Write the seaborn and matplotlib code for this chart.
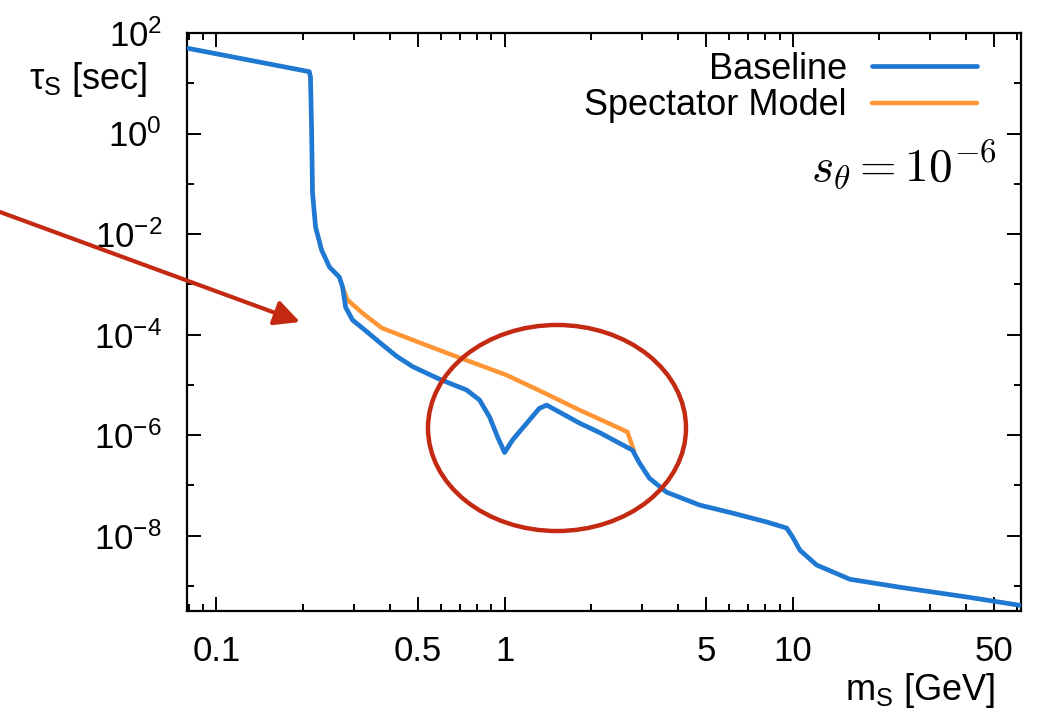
"""
Tempo de vida do escalar tau_S em função da massa m_S
Baseline vs Spectator Model, s_theta = 1e-6
"""

import matplotlib
matplotlib.use("Agg")
import matplotlib.pyplot as plt
import matplotlib.patches as mpatches
from matplotlib.ticker import FixedLocator, NullFormatter
import seaborn as sns

# Dados (m_S em GeV, tau_S em segundos)
baseline_m = [0.0787, 0.210, 0.212, 0.2138, 0.2155, 0.2208, 0.2317, 0.2468, 0.267,
              0.274, 0.2807, 0.2966, 0.332, 0.368, 0.422, 0.480, 0.549, 0.594,
              0.665, 0.738, 0.819, 0.887, 0.946, 1.0, 1.066, 1.32, 1.40, 1.82,
              2.15, 2.78, 2.94, 3.18, 3.65, 4.75, 6.19, 8.13, 9.53, 10.0, 10.6,
              12.1, 15.8, 23.5, 40.2, 61.4]
baseline_tau = [50.2, 17.0, 13.3, 1.35, 0.0655, 0.01376, 0.00481, 0.0022, 0.00139,
                8.8e-4, 3.5e-4, 1.95e-4, 1.15e-4, 7.0e-5, 3.7e-5, 2.3e-5, 1.6e-5,
                1.3e-5, 1.0e-5, 7.9e-6, 4.97e-6, 2.28e-6, 9.1e-7, 4.5e-7, 8.0e-7,
                3.4e-6, 3.95e-6, 1.73e-6, 1.1e-6, 5.0e-7, 2.77e-7, 1.39e-7, 7.3e-8,
                4.05e-8, 2.8e-8, 1.86e-8, 1.41e-8, 9.3e-9, 5.1e-9, 2.6e-9, 1.35e-9,
                9.4e-10, 6.0e-10, 4.1e-10]

spectator_m = [0.274, 0.285, 0.321, 0.375, 0.480, 0.630, 0.819, 1.016, 1.32, 1.82,
               2.37, 2.67, 2.82]
spectator_tau = [8.8e-4, 4.9e-4, 2.68e-4, 1.35e-4, 7.8e-5, 4.3e-5, 2.47e-5, 1.56e-5,
                 7.7e-6, 3.15e-6, 1.58e-6, 1.15e-6, 4.6e-7]

x_ticks = [0.1, 0.5, 1, 5, 10, 50]
x_tick_labels = ["0.1", "0.5", "1", "5", "10", "50"]
y_ticks = [1e-8, 1e-6, 1e-4, 1e-2, 1e0, 1e2]
y_tick_labels = [r"$\mathregular{10^{-8}}$", r"$\mathregular{10^{-6}}$",
                 r"$\mathregular{10^{-4}}$", r"$\mathregular{10^{-2}}$",
                 r"$\mathregular{10^{0}}$", r"$\mathregular{10^{2}}$"]
y_minor = [1e-9, 1e-7, 1e-5, 1e-3, 1e-1, 1e1]

AZUL = "#1f78d1"
LARANJA = "#ff9535"
VERMELHO = "#c42a12"


def main():
    sns.set_theme(style="ticks")
    plt.rcParams["font.family"] = ["Liberation Sans", "DejaVu Sans"]
    plt.rcParams["axes.unicode_minus"] = False
    plt.rcParams["mathtext.fontset"] = "custom"
    plt.rcParams["mathtext.rm"] = "Liberation Sans"
    plt.rcParams["mathtext.it"] = "Liberation Sans:italic"
    for chave in ["text.color", "axes.labelcolor", "xtick.color", "ytick.color",
                  "axes.edgecolor"]:
        plt.rcParams[chave] = "black"

    fig = plt.figure(figsize=(10.41, 7.13), dpi=100)
    ax = fig.add_axes([0.1796, 0.1431, 0.8012, 0.8106])

    sns.lineplot(x=spectator_m, y=spectator_tau, ax=ax, color=LARANJA, lw=3.2,
                 estimator=None, label="Spectator Model", zorder=2)
    sns.lineplot(x=baseline_m, y=baseline_tau, ax=ax, color=AZUL, lw=3.4,
                 estimator=None, label="Baseline", zorder=3)

    ax.set_xscale("log")
    ax.set_yscale("log")
    ax.set_xlim(0.079, 62)
    ax.set_ylim(10 ** -9.5, 1e2)

    ax.set_xticks(x_ticks)
    ax.set_xticklabels(x_tick_labels)
    ax.set_yticks(y_ticks)
    ax.set_yticklabels(y_tick_labels)
    ax.yaxis.set_minor_locator(FixedLocator(y_minor))
    ax.yaxis.set_minor_formatter(NullFormatter())
    ax.xaxis.set_minor_formatter(NullFormatter())

    ax.tick_params(which="both", direction="in", top=True, right=True,
                   labelsize=25, width=1.4)
    ax.tick_params(which="major", length=10)
    ax.tick_params(which="minor", length=5)
    ax.tick_params(axis="x", which="major", pad=17)
    ax.tick_params(axis="y", which="major", pad=18)
    for s in ax.spines.values():
        s.set_linewidth(1.6)

    ax.set_xlabel("")
    ax.set_ylabel("")
    ax.text(-0.047, 0.919, r"$\mathregular{τ_S}$ [sec]", transform=ax.transAxes,
            ha="right", va="center", fontsize=26)
    ax.text(0.969, -0.137, r"$\mathregular{m_S}$ [GeV]", transform=ax.transAxes,
            ha="right", va="center", fontsize=26)

    # legenda ao estilo gnuplot: texto antes da linha
    handles, labels = ax.get_legend_handles_labels()
    ordem = [labels.index("Baseline"), labels.index("Spectator Model")]
    ax.legend([handles[i] for i in ordem], [labels[i] for i in ordem],
              loc="upper right", bbox_to_anchor=(0.947, 0.968), frameon=False,
              markerfirst=False, fontsize=26, handlelength=2.9,
              handletextpad=0.7, labelspacing=0.05, borderpad=0, borderaxespad=0)

    ax.text(0.971, 0.772, r"$s_\theta = 10^{-6}$", transform=ax.transAxes,
            ha="right", va="center", fontsize=34, math_fontfamily="cm")

    # seta e elipse vermelhas (anotações sobre a figura)
    ax.annotate("", xy=(300, 713 - 322), xytext=(0, 713 - 212),
                xycoords="figure pixels", textcoords="figure pixels",
                arrowprops=dict(arrowstyle="-|>", color=VERMELHO, lw=3,
                                mutation_scale=38, shrinkA=0, shrinkB=0),
                annotation_clip=False)
    elipse = mpatches.Ellipse((557 / 1041, 1 - 428 / 713), 258 / 1041, 206 / 713,
                              transform=fig.transFigure, fill=False,
                              edgecolor=VERMELHO, lw=3.2, zorder=5)
    fig.add_artist(elipse)

    fig.savefig("out.png", dpi=100)
    plt.close(fig)


if __name__ == "__main__":
    main()
